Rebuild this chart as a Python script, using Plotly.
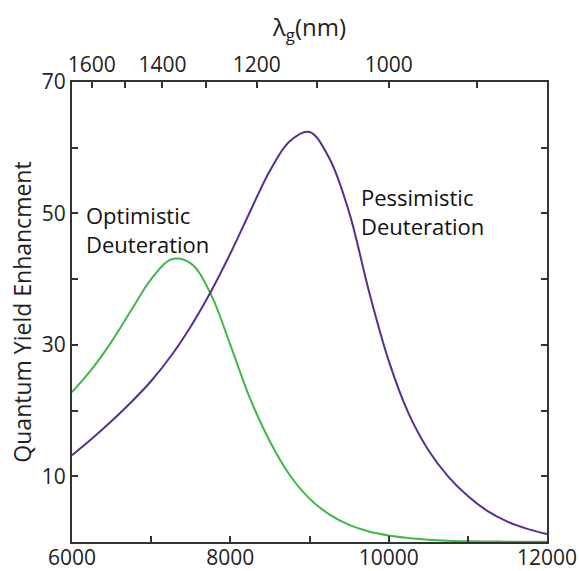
import plotly.graph_objects as go

# Quantum yield enhancement vs. gap energy (cm^-1)
energy = [6000, 6250, 6500, 6750, 7000, 7250, 7500, 7750, 8000, 8250, 8500, 8750,
          9000, 9250, 9500, 9750, 10000, 10250, 10500, 10750, 11000, 11250, 11500,
          11750, 12000]

optimistic_y = [22.8, 26.3, 30.5, 35.3, 40.0, 43.0, 42.4, 37.8, 30.0, 21.8, 15.3, 10.2,
                6.6, 4.2, 2.6, 1.6, 1.0, 0.6, 0.35, 0.2, 0.12, 0.08, 0.05, 0.03, 0.02]

pessimistic_y = [13.2, 15.7, 18.4, 21.3, 24.5, 28.3, 32.8, 38.0, 43.9, 50.3, 56.5, 61.0,
                 62.4, 58.4, 50.2, 38.2, 27.6, 19.6, 14.0, 10.0, 7.0, 4.7, 3.1, 2.0, 1.2]

# Bottom axis ticks
x_ticks = [6000, 7000, 8000, 9000, 10000, 11000, 12000]
x_labels = ["6000", "", "8000", "", "10000", "", "12000"]
y_ticks = [0, 10, 20, 30, 40, 50, 60, 70]
y_labels = ["", "10", "", "30", "", "50", "", "70"]

# Top axis: gap wavelength in nm
lambda_nm = [1600, 1500, 1400, 1300, 1200, 1100, 1000, 900]
lambda_labels = ["1600", "", "1400", "", "1200", "", "1000", ""]
lambda_pos = [1e7 / v for v in lambda_nm]

GREEN = "#43b54a"
PURPLE = "#5a2d91"
AX = "#333333"
TXT = "#222222"
FONT = "Open Sans"

fig = go.Figure()
fig.add_trace(go.Scatter(x=energy, y=optimistic_y, mode="lines",
                         line=dict(color=GREEN, width=2, shape="spline", smoothing=1.0),
                         showlegend=False))
fig.add_trace(go.Scatter(x=energy, y=pessimistic_y, mode="lines",
                         line=dict(color=PURPLE, width=2, shape="spline", smoothing=1.0),
                         showlegend=False))
# invisible trace to activate the top axis
fig.add_trace(go.Scatter(x=[6000, 12000], y=[None, None], xaxis="x2",
                         mode="lines", showlegend=False, hoverinfo="skip"))

tick_common = dict(ticks="inside", ticklen=6, tickwidth=1.5, tickcolor=AX,
                   showline=True, linecolor=AX, linewidth=2,
                   showgrid=False, zeroline=False, automargin=False,
                   tickfont=dict(size=21, family=FONT, color=TXT))

fig.update_layout(
    width=579, height=571,
    margin=dict(l=72, r=32, t=82, b=29),
    paper_bgcolor="white", plot_bgcolor="white",
    font=dict(family=FONT, size=21, color=TXT),
    xaxis=dict(range=[6000, 12000], tickvals=x_ticks, ticktext=x_labels,
               mirror=False, ticklabelstandoff=-4, **tick_common),
    xaxis2=dict(range=[6000, 12000], overlaying="x", side="top", anchor="y",
                tickvals=lambda_pos, ticktext=lambda_labels,
                title=dict(text="λ<sub>g</sub>(nm)", standoff=6,
                           font=dict(size=24, family=FONT, color=TXT)),
                **tick_common),
    yaxis=dict(range=[0, 70], tickvals=y_ticks, ticktext=y_labels,
               mirror="ticks",
               title=dict(text="Quantum Yield Enhancment", standoff=4,
                          font=dict(size=23, family=FONT, color=TXT)),
               **tick_common),
    annotations=[
        dict(x=6150, y=47.6, xref="x", yref="y", xanchor="left", yanchor="middle",
             text="Optimistic<br>Deuteration", showarrow=False, align="left",
             font=dict(size=22, family=FONT, color="#111111")),
        dict(x=9630, y=50.3, xref="x", yref="y", xanchor="left", yanchor="middle",
             text="Pessimistic<br>Deuteration", showarrow=False, align="left",
             font=dict(size=22, family=FONT, color="#111111")),
    ],
)

fig.write_html("out.html")
